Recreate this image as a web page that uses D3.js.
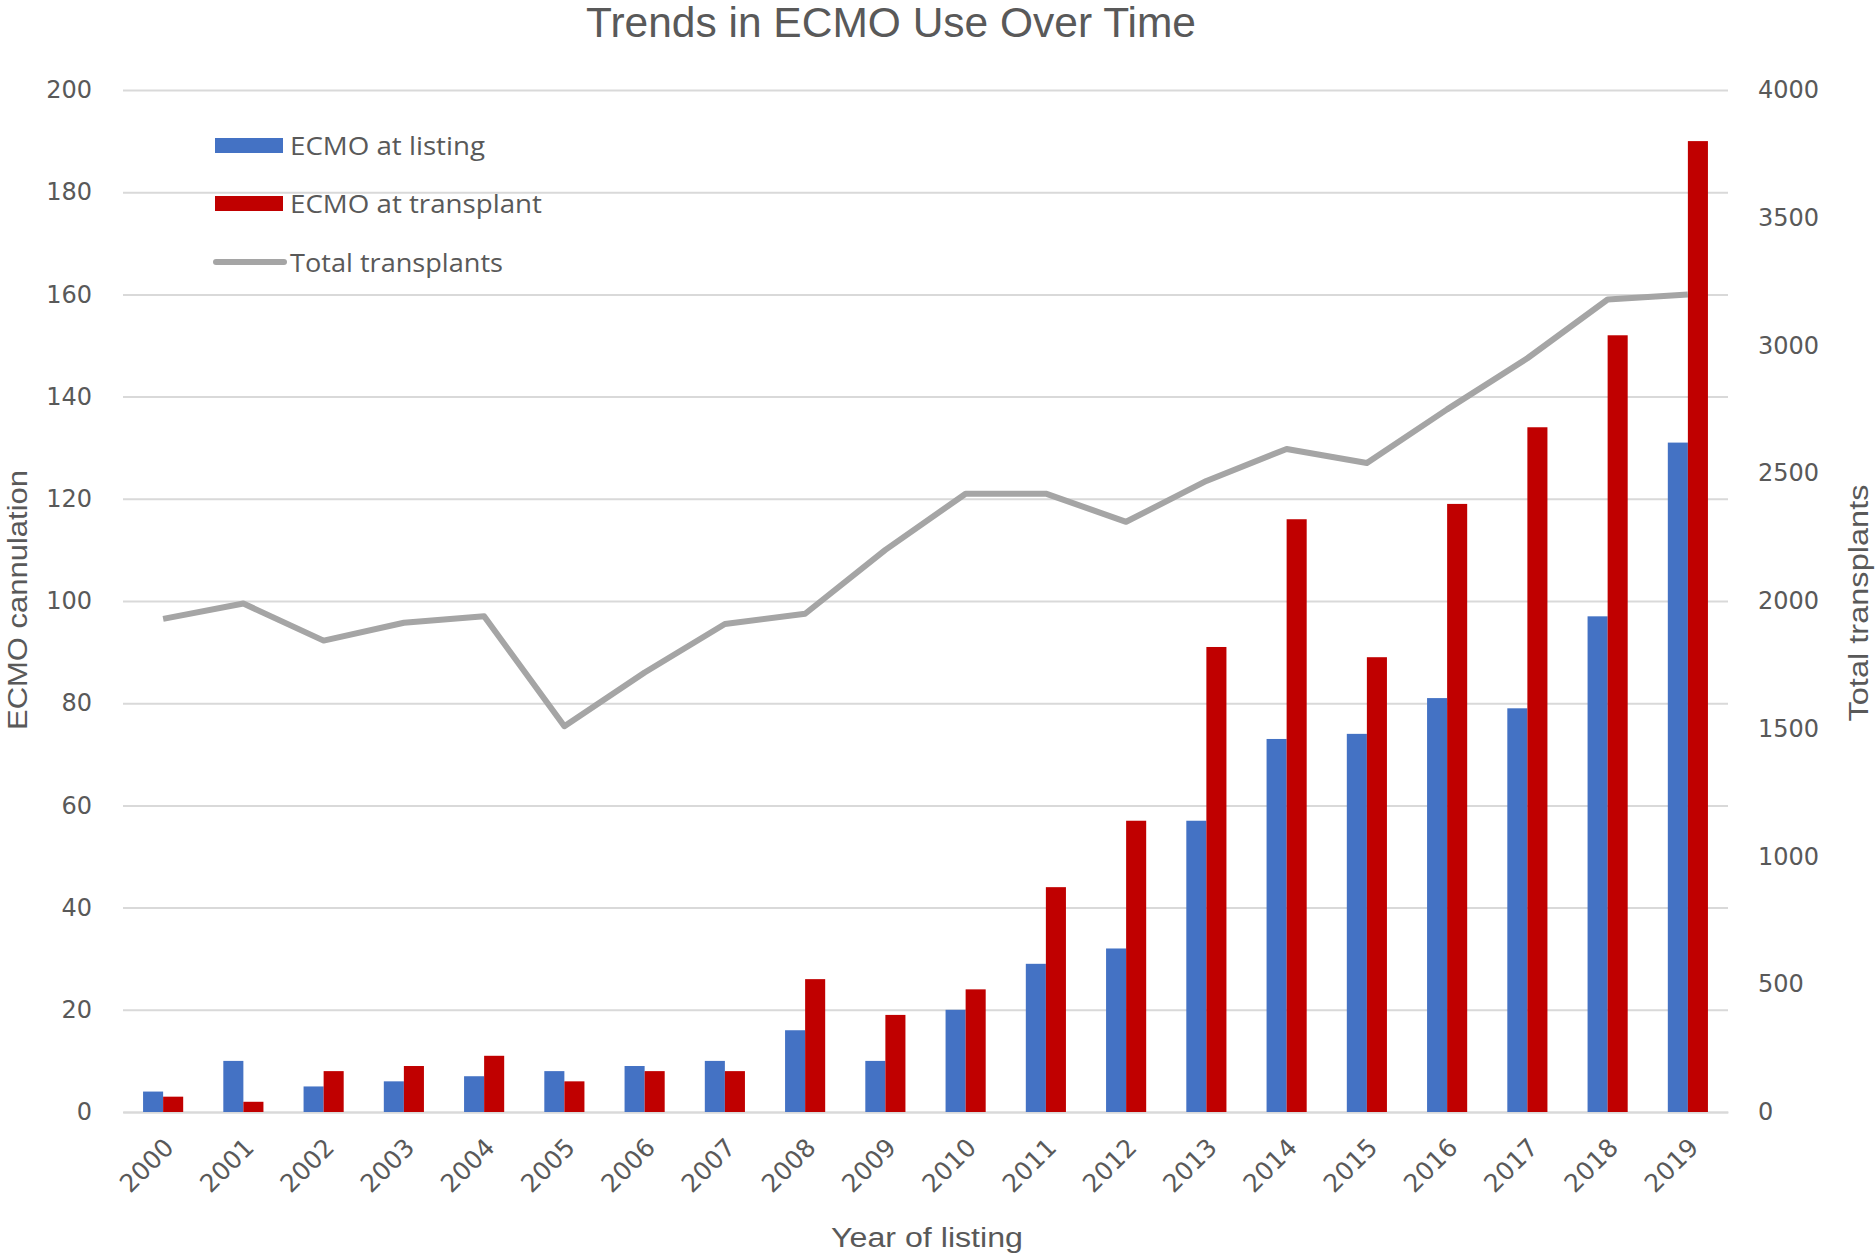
<!DOCTYPE html>
<html>
<head>
<meta charset="utf-8">
<script src="https://cdn.jsdelivr.net/npm/d3@7"></script>
<style>
  body { margin: 0; background: #fff; }
  svg { display: block; }
</style>
</head>
<body>
<script>
// --- data ---
const years = ["2000","2001","2002","2003","2004","2005","2006","2007","2008","2009",
               "2010","2011","2012","2013","2014","2015","2016","2017","2018","2019"];
const ecmoListing    = [4, 10, 5, 6, 7, 8, 9, 10, 16, 10, 20, 29, 32, 57, 73, 74, 81, 79, 97, 131];
const ecmoTransplant = [3, 2, 8, 9, 11, 6, 8, 8, 26, 19, 24, 44, 57, 91, 116, 89, 119, 134, 152, 190];
const totalTransplants = [1930, 1990, 1845, 1915, 1940, 1510, 1720, 1910, 1950, 2200,
                          2420, 2420, 2310, 2470, 2595, 2540, 2750, 2950, 3180, 3200];
const leftTicks  = [0, 20, 40, 60, 80, 100, 120, 140, 160, 180, 200];
const rightTicks = [0, 500, 1000, 1500, 2000, 2500, 3000, 3500, 4000];
const seriesNames = ["ECMO at listing", "ECMO at transplant", "Total transplants"];

// --- layout ---
const W = 1876, H = 1256;
const L = 123, R = 1728, T = 90, B = 1112;
const BLUE = "#4472C4", RED = "#C00000", GRAY = "#A5A5A5";
const TXT = "#595959", GRID = "#D9D9D9";
const narrow = "'Liberation Sans Narrow', 'Liberation Sans', sans-serif";
const tickFont = "'DejaVu Sans', sans-serif";

const svg = d3.select("body").append("svg")
  .attr("width", W)
  .attr("height", H);

const x = d3.scaleBand().domain(years).range([L, R]).paddingInner(0.5).paddingOuter(0.25);
const xs = d3.scaleBand().domain(["listing", "transplant"]).range([0, x.bandwidth()]);
const y = d3.scaleLinear().domain([0, 200]).range([B, T]);
const y2 = d3.scaleLinear().domain([0, 4000]).range([B, T]);

// left axis + gridlines
const gLeft = svg.append("g")
  .attr("transform", `translate(${L},0)`)
  .call(d3.axisLeft(y).tickValues(leftTicks).tickSizeInner(-(R - L)).tickSizeOuter(0).tickPadding(31));
gLeft.select(".domain").remove();
gLeft.selectAll("line").attr("stroke", GRID).attr("stroke-width", 2);
gLeft.selectAll("text").attr("fill", TXT).style("font-family", tickFont).style("font-size", "24px");

// right axis (no thousands separator, like the original)
const gRight = svg.append("g")
  .attr("transform", `translate(${R},0)`)
  .call(d3.axisRight(y2).tickValues(rightTicks).tickFormat(d3.format("d")).tickSize(0).tickPadding(30));
gRight.select(".domain").remove();
gRight.selectAll("text").attr("fill", TXT).style("font-family", tickFont).style("font-size", "24px");

// bottom axis
const gBottom = svg.append("g")
  .attr("transform", `translate(0,${B})`)
  .call(d3.axisBottom(x).tickSize(0));
gBottom.select(".domain").attr("stroke", GRID).attr("stroke-width", 2);
gBottom.selectAll("text")
  .attr("fill", TXT)
  .style("font-family", tickFont)
  .style("font-size", "25px")
  .attr("text-anchor", "end")
  .attr("dy", 0)
  .attr("y", 0)
  .attr("transform", "translate(12,37) rotate(-45)");

// bars
const groups = svg.append("g").selectAll("g")
  .data(years)
  .join("g")
    .attr("transform", d => `translate(${x(d)},0)`);

groups.append("rect")
  .attr("x", xs("listing"))
  .attr("width", xs.bandwidth())
  .attr("y", (d, i) => y(ecmoListing[i]))
  .attr("height", (d, i) => B - y(ecmoListing[i]))
  .attr("fill", BLUE);

groups.append("rect")
  .attr("x", xs("transplant"))
  .attr("width", xs.bandwidth())
  .attr("y", (d, i) => y(ecmoTransplant[i]))
  .attr("height", (d, i) => B - y(ecmoTransplant[i]))
  .attr("fill", RED);

// total transplants line
const line = d3.line()
  .x((d, i) => x(years[i]) + x.bandwidth() / 2)
  .y(d => y2(d));

svg.append("path")
  .datum(totalTransplants)
  .attr("d", line)
  .attr("fill", "none")
  .attr("stroke", GRAY)
  .attr("stroke-width", 6)
  .attr("stroke-linejoin", "round");

// title
svg.append("text")
  .attr("x", 891).attr("y", 37)
  .attr("text-anchor", "middle")
  .attr("fill", TXT)
  .attr("textLength", 610).attr("lengthAdjust", "spacingAndGlyphs")
  .style("font-family", narrow).style("font-size", "42px")
  .text("Trends in ECMO Use Over Time");

// axis titles
svg.append("text")
  .attr("transform", "translate(27,600) rotate(-90)")
  .attr("text-anchor", "middle")
  .attr("fill", TXT)
  .attr("textLength", 260).attr("lengthAdjust", "spacingAndGlyphs")
  .style("font-family", narrow).style("font-size", "27px")
  .text("ECMO cannulation");

svg.append("text")
  .attr("transform", "translate(1868,603) rotate(-90)")
  .attr("text-anchor", "middle")
  .attr("fill", TXT)
  .attr("textLength", 237).attr("lengthAdjust", "spacingAndGlyphs")
  .style("font-family", narrow).style("font-size", "27px")
  .text("Total transplants");

svg.append("text")
  .attr("x", 927).attr("y", 1247)
  .attr("text-anchor", "middle")
  .attr("fill", TXT)
  .attr("textLength", 192).attr("lengthAdjust", "spacingAndGlyphs")
  .style("font-family", narrow).style("font-size", "27px")
  .text("Year of listing");

// legend
const legendY = [145, 203, 262];
const legendLen = [195, 252, 213];
const legend = svg.append("g");
legend.append("rect").attr("x", 215).attr("y", legendY[0] - 7).attr("width", 68).attr("height", 15).attr("fill", BLUE);
legend.append("rect").attr("x", 215).attr("y", legendY[1] - 7).attr("width", 68).attr("height", 15).attr("fill", RED);
legend.append("line")
  .attr("x1", 216).attr("x2", 284)
  .attr("y1", legendY[2]).attr("y2", legendY[2])
  .attr("stroke", GRAY).attr("stroke-width", 6).attr("stroke-linecap", "round");
legend.selectAll("text")
  .data(seriesNames)
  .join("text")
    .attr("x", 290)
    .attr("y", (d, i) => legendY[i] + 10)
    .attr("fill", TXT)
    .attr("textLength", (d, i) => legendLen[i]).attr("lengthAdjust", "spacingAndGlyphs")
    .style("font-family", "'Open Sans', sans-serif").style("font-size", "26px")
    .text(d => d);
</script>
</body>
</html>
